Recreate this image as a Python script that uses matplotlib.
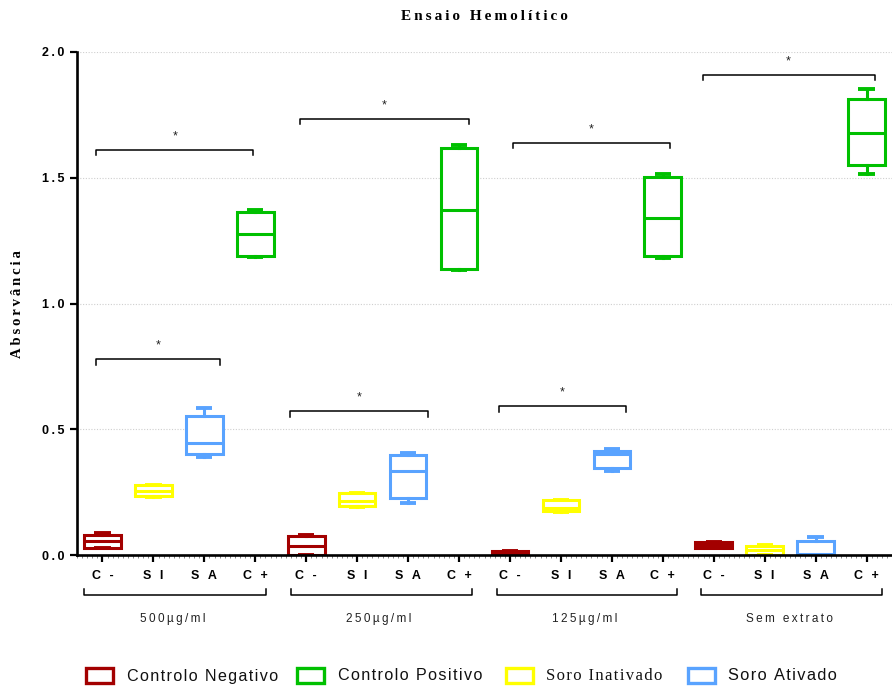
import matplotlib
matplotlib.use("Agg")
import matplotlib.pyplot as plt
from matplotlib.patches import Rectangle
from matplotlib.transforms import blended_transform_factory
from matplotlib.ticker import MultipleLocator

# ---------------- data ----------------
groups = ["500µg/ml", "250µg/ml", "125µg/ml", "Sem extrato"]
tick_labels = ["C -", "S I", "S A", "C +"]
series_names = ["Controlo Negativo", "Controlo Positivo", "Soro Inativado", "Soro Ativado"]
y_ticks = [0.0, 0.5, 1.0, 1.5, 2.0]
y_tick_labels = ["0.0", "0.5", "1.0", "1.5", "2.0"]

# five-number summaries per group: [min, q1, median, q3, max]
controlo_negativo = [
    [0.026, 0.028, 0.056, 0.079, 0.087],
    [0.000, 0.000, 0.036, 0.075, 0.079],
    [0.000, 0.003, 0.008, 0.014, 0.016],
    [0.026, 0.027, 0.040, 0.050, 0.052],
]
soro_inativado = [
    [0.230, 0.234, 0.254, 0.278, 0.278],
    [0.190, 0.194, 0.214, 0.246, 0.246],
    [0.172, 0.176, 0.188, 0.218, 0.218],
    [0.000, 0.000, 0.020, 0.037, 0.040],
]
soro_ativado = [
    [0.389, 0.401, 0.444, 0.552, 0.583],
    [0.206, 0.226, 0.333, 0.397, 0.405],
    [0.333, 0.344, 0.402, 0.414, 0.421],
    [0.000, 0.000, 0.003, 0.056, 0.070],
]
controlo_positivo = [
    [1.183, 1.190, 1.278, 1.365, 1.373],
    [1.135, 1.139, 1.373, 1.619, 1.631],
    [1.179, 1.190, 1.341, 1.504, 1.516],
    [1.516, 1.552, 1.679, 1.813, 1.853],
]

# significance brackets: (x left, x right, height)
sig_brackets = [
    (0.88, 3.96, 1.611), (0.88, 3.31, 0.778),
    (4.88, 8.20, 1.734), (4.69, 7.40, 0.571),
    (9.06, 12.14, 1.639), (8.78, 11.27, 0.591),
    (12.78, 16.16, 1.909),
]
group_spans = [(0.63, 4.22), (4.71, 8.25), (8.75, 12.27), (12.76, 16.31)]

# ---------------- style ----------------
c_neg = "#A30000"
c_pos = "#00C000"
c_si = "#FFFF00"
c_sa = "#59A3FF"

TS = "\u2009"
HS = "\u200A"


def spaced(s, sep=TS):
    return sep.join(list(s))


SANS = ["Liberation Sans", "DejaVu Sans"]
SERIF = ["Liberation Serif", "DejaVu Serif"]

fig = plt.figure(figsize=(8.92, 6.91), dpi=100)
ax = fig.add_axes([77 / 892, 1 - 555 / 691, (892 - 77) / 892, (555 - 52) / 691])

order = [(controlo_negativo, c_neg), (soro_inativado, c_si),
         (soro_ativado, c_sa), (controlo_positivo, c_pos)]
positions = []
for g in range(len(groups)):
    for s, (data, col) in enumerate(order):
        mn, q1, med, q3, mx = data[g]
        pos = g * 4 + s + 1
        positions.append(pos)
        st = dict(whislo=mn, q1=q1, med=med, q3=q3, whishi=mx, fliers=[])
        ax.bxp([st], positions=[pos], widths=0.72, capwidths=0.32,
               patch_artist=True, showfliers=False, manage_ticks=False,
               boxprops=dict(facecolor="white", edgecolor=col, linewidth=2.2),
               medianprops=dict(color=col, linewidth=2.2, solid_capstyle="butt"),
               whiskerprops=dict(color=col, linewidth=2.2),
               capprops=dict(color=col, linewidth=2.8, solid_capstyle="butt"))

ax.set_xlim(0.5, 16.5)
ax.set_ylim(0, 2.0)

for sp in ["top", "right"]:
    ax.spines[sp].set_visible(False)
ax.spines["left"].set_linewidth(1.9)
ax.spines["bottom"].set_linewidth(1.9)

ax.set_yticks(y_ticks)
ax.set_yticklabels([spaced(t) for t in y_tick_labels], fontfamily=SANS,
                   fontweight="bold", fontsize=9)
ax.set_xticks(positions)
ax.set_xticklabels([spaced(tick_labels[i % 4]) for i in range(len(positions))],
                   fontfamily=SANS, fontweight="bold", fontsize=9)
ax.xaxis.set_minor_locator(MultipleLocator(0.1))
ax.tick_params(axis="both", which="major", length=5, width=1.6, pad=4)
ax.tick_params(axis="x", which="major", pad=6)
ax.tick_params(axis="x", which="minor", length=2, width=0.5, color="#555555")
ax.yaxis.grid(True, linestyle=(0, (1, 1.5)), color="#cfcfcf", linewidth=0.8)
ax.set_axisbelow(True)

# significance brackets
leg_h = 0.022
for x1, x2, y in sig_brackets:
    ax.plot([x1, x1, x2, x2], [y - leg_h, y, y, y - leg_h], color="black",
            linewidth=1.1, clip_on=False)
    ax.text((x1 + x2) / 2, y + 0.055, "*", ha="center", va="center",
            fontsize=9, fontfamily=SANS, color="#222222", clip_on=False)

# group brackets below axis
tr = blended_transform_factory(ax.transData, ax.transAxes)
yb = -(595 - 555) / 503
yl = -(589 - 555) / 503
ylab = -(619 - 555) / 503
for (x1, x2), name in zip(group_spans, groups):
    ax.plot([x1, x1, x2, x2], [yl, yb, yb, yl], color="black", linewidth=1.1,
            transform=tr, clip_on=False)
    ax.text((x1 + x2) / 2 - 0.05, ylab, spaced(name),
            transform=tr, ha="center", va="center", fontsize=8.5, fontfamily=SANS,
            color="#222222")

# title and y label
fig.text(484 / 892, 1 - 17 / 691, spaced("Ensaio Hemolítico"), ha="center", va="center",
         fontsize=11, fontweight="bold", fontfamily=SERIF)
fig.text(18 / 892, 1 - 304 / 691, spaced("Absorvância"), ha="center", va="center",
         rotation=90, fontsize=10.5, fontweight="bold", fontfamily=SERIF)

# legend (manual)
leg_items = [
    (86, 127, series_names[0], c_neg, SANS, 11.6),
    (297, 338, series_names[1], c_pos, SANS, 11.6),
    (506, 546, series_names[2], c_si, SERIF, 12.0),
    (688, 728, series_names[3], c_sa, SANS, 11.8),
]
W, H = 892.0, 691.0
for mx, tx, name, col, fam, fs in leg_items:
    fig.patches.append(Rectangle((mx / W, 1 - 683 / H), 27 / W, 15 / H,
                                 transform=fig.transFigure, facecolor="white",
                                 edgecolor=col, linewidth=2.4))
    fig.text(tx / W, 1 - 676 / H, spaced(name, HS), ha="left", va="center", fontsize=fs,
             fontfamily=fam, color="#111111")

fig.savefig("out.png", dpi=100)
